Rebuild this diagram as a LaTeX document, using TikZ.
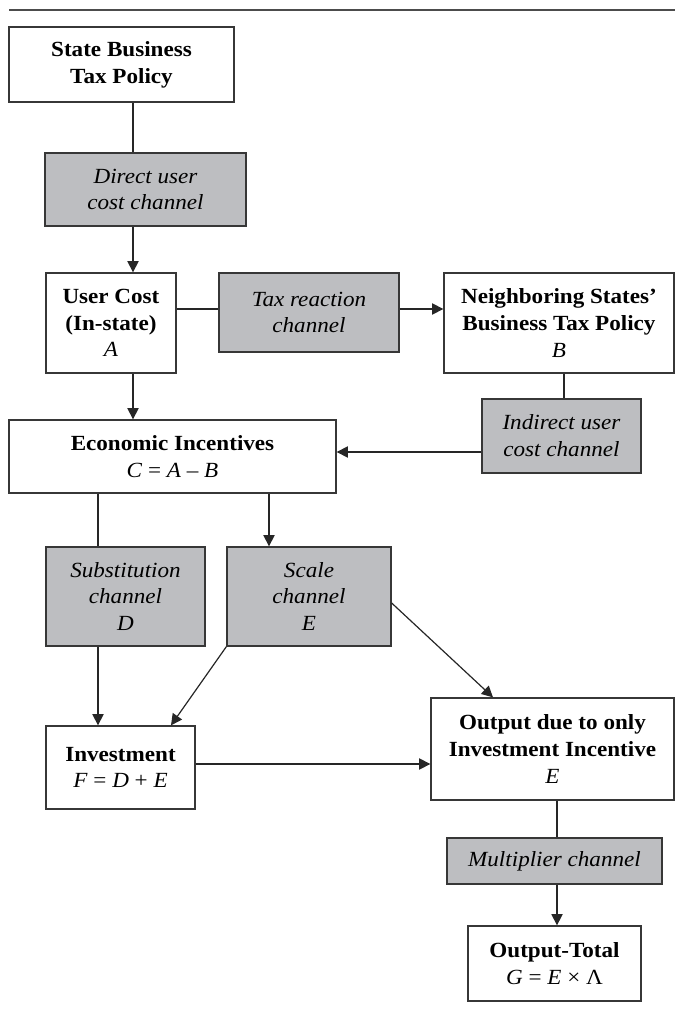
\documentclass[tikz,border=0pt]{standalone}
\usepackage{fontspec}
\setmainfont{Liberation Serif}[FakeStretch=1.07]
\usetikzlibrary{arrows.meta}
\definecolor{chgray}{RGB}{189,190,193}
\definecolor{edgegray}{RGB}{55,55,55}
\tikzset{
  base/.style={inner sep=0pt, draw=edgegray, line width=0.65pt, align=center,
    font=\fontsize{10.8}{13.4}\selectfont},
  box/.style={base, fill=white},
  chan/.style={base, fill=chgray},
  sz/.style 2 args={minimum width=#1pt, minimum height=#2pt},
  conn/.style={line width=0.6pt, draw=black!85},
  arr/.style={conn, -{Triangle[length=5.6pt,width=5.6pt]}},
}
\begin{document}
\begin{tikzpicture}[x=0.5pt,y=-0.5pt]
\useasboundingbox (0,0) rectangle (675,1015);
% top rule
\coordinate (ruleL) at (9,10);
\coordinate (ruleR) at (675,10);
\draw[line width=0.75pt, draw=black!70] (ruleL) -- (ruleR);

% nodes
\node[box, sz={112.5}{37.5}] (state) at (121.5,64.5) {\textbf{State Business}\\\textbf{Tax Policy}};
\node[chan, sz={100.5}{36.5}] (direct) at (145.5,189.5) {\textit{Direct user}\\\textit{cost channel}};
\node[box, sz={65}{50}] (userc) at (111,323) {\textbf{User Cost}\\\textbf{(In-state)}\\\textit{A}};
\node[chan, sz={90}{39.5}] (tax) at (309,312.5) {\textit{Tax reaction}\\\textit{channel}};
\node[box, sz={115}{50}] (neigh) at (559,323) {\textbf{Neighboring States’}\\\textbf{Business Tax Policy}\\\textit{B}};
\node[chan, sz={79.5}{37}] (indirect) at (561.5,436) {\textit{Indirect user}\\\textit{cost channel}};
\node[box, sz={163.5}{36.5}] (econ) at (172.5,456.5) {\textbf{Economic Incentives}\\\textit{C} = \textit{A} – \textit{B}};
\node[chan, sz={79.5}{49.5}] (subst) at (125.5,596.5) {\textit{Substitution}\\\textit{channel}\\\textit{D}};
\node[chan, sz={82}{49.5}] (scale) at (309,596.5) {\textit{Scale}\\\textit{channel}\\\textit{E}};
\node[box, sz={74.5}{41.5}] (invest) at (120.5,767.5) {\textbf{Investment}\\\textit{F} = \textit{D} + \textit{E}};
\node[box, sz={121.5}{51}] (output) at (552.5,749) {\textbf{Output due to only}\\\textbf{Investment Incentive}\\\textit{E}};
\node[chan, sz={107.5}{23}] (mult) at (554.5,861) {\textit{Multiplier channel}};
\node[box, sz={86.5}{37.5}] (total) at (554.5,963.5) {\textbf{Output-Total}\\\textit{G} = \textit{E} × Λ};

% helper coordinates for connector positions
\coordinate (xa) at (133,0);
\coordinate (ya) at (0,309);
\coordinate (xb) at (564,0);
\coordinate (yb) at (0,452);
\coordinate (xc) at (98,0);
\coordinate (xd) at (269,0);
\coordinate (xe) at (171,0);
\coordinate (yf) at (0,603);
\coordinate (xf) at (493,0);
\coordinate (yg) at (0,764);
\coordinate (xg) at (557,0);

% connectors
\draw[conn] (state.south -| xa) -- (direct.north -| xa);
\draw[arr] (direct.south -| xa) -- (userc.north -| xa);
\draw[conn] (userc.east |- ya) -- (tax.west |- ya);
\draw[arr] (tax.east |- ya) -- (neigh.west |- ya);
\draw[arr] (userc.south -| xa) -- (econ.north -| xa);
\draw[conn] (neigh.south -| xb) -- (indirect.north -| xb);
\draw[arr] (indirect.west |- yb) -- (econ.east |- yb);
\draw[conn] (econ.south -| xc) -- (subst.north -| xc);
\draw[arr] (econ.south -| xd) -- (scale.north -| xd);
\draw[arr] (subst.south -| xc) -- (invest.north -| xc);
\draw[arr] (scale.south west) -- (invest.north -| xe);
\draw[arr] (scale.east |- yf) -- (output.north -| xf);
\draw[arr] (invest.east |- yg) -- (output.west |- yg);
\draw[conn] (output.south -| xg) -- (mult.north -| xg);
\draw[arr] (mult.south -| xg) -- (total.north -| xg);
\end{tikzpicture}
\end{document}
